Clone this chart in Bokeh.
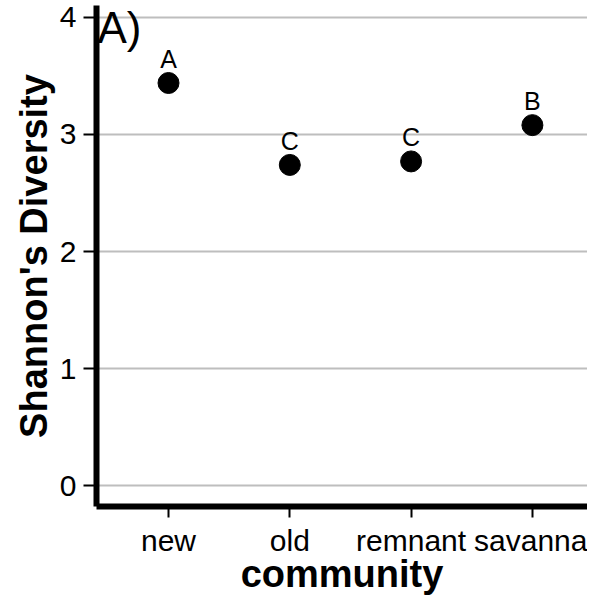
from bokeh.plotting import figure
from bokeh.models import Range1d, FixedTicker, ColumnDataSource, Label
from bokeh.embed import file_html
from bokeh.resources import INLINE
from bokeh.core.properties import value

# data
communities = ["new", "old", "remnant", "savanna"]
diversity = [3.44, 2.74, 2.77, 3.08]
groups = ["A", "C", "C", "B"]
y_ticks = [0, 1, 2, 3, 4]

xpos = list(range(1, len(communities) + 1))
src = ColumnDataSource(dict(x=xpos, y=diversity, lab=groups))

FONT = "Liberation Sans"
X0, X1 = 0.4064, 4.4542
Y0, Y1 = -0.178, 4.102

p = figure(width=587, height=597, output_backend="svg", toolbar_location=None,
           x_range=Range1d(X0, X1), y_range=Range1d(Y0, Y1),
           min_border_left=96, min_border_right=0, min_border_top=5, min_border_bottom=87)
p.outline_line_color = None
p.background_fill_color = "white"
p.border_fill_color = "white"

p.xgrid.grid_line_color = None
p.ygrid.grid_line_color = "#bebebe"
p.ygrid.grid_line_width = 2
p.ygrid.ticker = FixedTicker(ticks=y_ticks)

# axes
p.xaxis.ticker = FixedTicker(ticks=xpos)
p.xaxis.major_label_overrides = {i: c for i, c in zip(xpos, communities)}
p.yaxis.ticker = FixedTicker(ticks=y_ticks)

for ax in (p.xaxis[0], p.yaxis[0]):
    ax.axis_line_color = "black"
    ax.axis_line_width = 6
    ax.major_tick_line_color = "black"
    ax.major_tick_line_width = 2
    ax.major_tick_in = 0
    ax.minor_tick_line_color = None
    ax.major_label_text_font = FONT
    ax.major_label_text_font_size = "30px"
    ax.major_label_text_color = "black"
    ax.axis_label_text_font = FONT
    ax.axis_label_text_font_size = "38px"
    ax.axis_label_text_font_style = "bold"
    ax.axis_label_text_color = "black"

p.xaxis.major_tick_out = 11
p.yaxis.major_tick_out = 13
p.xaxis.major_label_standoff = 6
p.yaxis.major_label_standoff = 7
p.xaxis.axis_label_standoff = -7
p.yaxis.axis_label_standoff = 2
p.xaxis.major_label_text_line_height = 1.0
p.xaxis.axis_label_text_line_height = 1.0
p.xaxis.axis_label = "community"
p.yaxis.axis_label = "Shannon's Diversity"

p.scatter("x", "y", source=src, size=21, color="black")
p.text("x", "y", text="lab", source=src, y_offset=-24, text_align="center",
       text_baseline="alphabetic", text_font=value(FONT), text_font_size="25px",
       text_color="black")

p.add_layout(Label(x=X0, y=3.914, x_offset=1, text="A)", text_font=FONT,
                   text_font_size="44px", text_baseline="middle", text_align="left",
                   text_color="black"))

open("out.html", "w").write(file_html(p, INLINE))
